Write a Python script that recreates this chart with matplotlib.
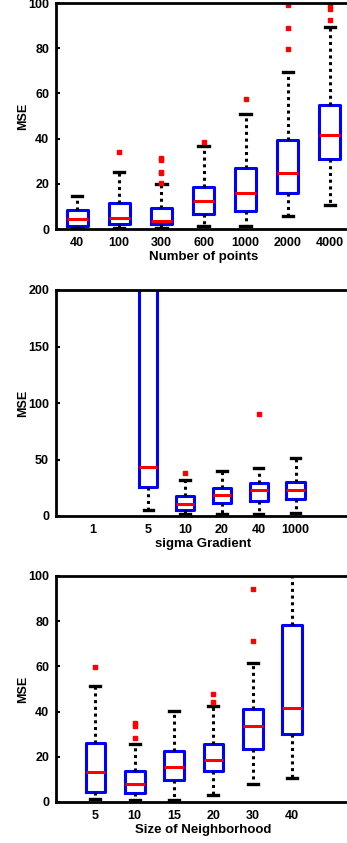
import matplotlib
matplotlib.use("Agg")
import matplotlib.pyplot as plt

plt.rcParams['font.family'] = ['Liberation Sans', 'DejaVu Sans']
plt.rcParams['font.weight'] = 'bold'
plt.rcParams['font.size'] = 9

# panel 1: number of points
pts_labels = ['40', '100', '300', '600', '1000', '2000', '4000']
pts_whislo = [0.3, 0.3, 0.3, 1.5, 1.3, 5.6, 10.7]
pts_q1 = [1.2, 2.1, 2.1, 6.8, 8.0, 16.0, 31.1]
pts_med = [4.3, 4.9, 3.4, 12.3, 16.1, 24.7, 41.4]
pts_q3 = [8.6, 11.7, 9.3, 18.6, 26.8, 39.3, 55.0]
pts_whishi = [14.8, 25.4, 19.8, 36.7, 51.0, 69.5, 89.3]
pts_fliers = [[], [33.9], [20.3, 24.6, 25.3, 30.6, 31.4], [38.3], [57.4],
              [79.6, 88.9, 99.3], [92.6, 97.3, 99.3]]

# panel 2: sigma gradient (sigma=1 is off the chart)
sig_labels = ['1', '5', '10', '20', '40', '1000']
sig_whislo = [5.3, 1.8, 1.8, 2.0, 2.7]
sig_q1 = [26.0, 5.6, 11.2, 13.3, 15.1]
sig_med = [43.2, 10.9, 18.6, 22.8, 22.8]
sig_q3 = [260.0, 17.8, 25.1, 29.6, 30.2]
sig_whishi = [300.0, 32.0, 40.0, 42.9, 51.2]
sig_fliers = [[], [38.2], [], [90.2], []]

# panel 3: size of neighborhood
nb_labels = ['5', '10', '15', '20', '30', '40']
nb_whislo = [1.2, 1.0, 1.0, 3.3, 8.1, 10.8]
nb_q1 = [4.3, 4.1, 9.6, 13.8, 23.3, 29.9]
nb_med = [13.2, 8.0, 15.6, 18.8, 33.5, 41.8]
nb_q3 = [26.2, 13.8, 22.7, 25.6, 41.0, 78.1]
nb_whishi = [51.4, 25.8, 40.3, 42.5, 61.5, 115.0]
nb_fliers = [[59.9], [28.4, 33.8, 34.8], [], [44.3, 48.0], [71.1, 94.2], []]


def make_stats(lo, q1, med, q3, hi, fl):
    return [dict(whislo=a, q1=b, med=c, q3=d, whishi=e, fliers=f)
            for a, b, c, d, e, f in zip(lo, q1, med, q3, hi, fl)]


fig = plt.figure(figsize=(3.47, 8.43), dpi=100)
W, H = 347.0, 843.0
left = 56 / W
width = 295 / W


def draw(rect, stats, positions, xlim, ylim, yticks, ticks, labels, xlabel):
    ax = fig.add_axes(rect)
    ax.bxp(stats, positions=positions, widths=0.5, capwidths=0.25,
           boxprops=dict(color='blue', linewidth=2.2),
           medianprops=dict(color='red', linewidth=2.2),
           whiskerprops=dict(color='black', linewidth=2.2, linestyle=(0, (1, 1.2))),
           capprops=dict(color='black', linewidth=2.4),
           flierprops=dict(marker='s', markersize=2.4, markerfacecolor='red',
                           markeredgecolor='red'))
    ax.set_xlim(*xlim)
    ax.set_ylim(*ylim)
    ax.set_yticks(yticks)
    ax.set_xticks(ticks)
    ax.set_xticklabels(labels, fontweight='bold')
    ax.tick_params(axis='x', length=0, pad=6)
    ax.tick_params(axis='y', direction='in', length=3, width=1.5, pad=5)
    for s in ax.spines.values():
        s.set_linewidth(2)
    ax.set_xlabel(xlabel, fontweight='bold', fontsize=9.5, labelpad=1)
    ax.set_ylabel('MSE', fontweight='bold', labelpad=-1)
    return ax


st1 = make_stats(pts_whislo, pts_q1, pts_med, pts_q3, pts_whishi, pts_fliers)
draw([left, (H - 229) / H, width, 226 / H], st1, list(range(1, 8)),
     (0.5, 7.5), (0, 100), [0, 20, 40, 60, 80, 100],
     list(range(1, 8)), pts_labels, 'Number of points')

st2 = make_stats(sig_whislo, sig_q1, sig_med, sig_q3, sig_whishi, sig_fliers)
draw([left, (H - 516) / H, width, 226 / H], st2, [3, 4, 5, 6, 7],
     (0.5, 8.5), (0, 200), [0, 50, 100, 150, 200],
     [1.5, 3, 4, 5, 6, 7], sig_labels, 'sigma Gradient')

st3 = make_stats(nb_whislo, nb_q1, nb_med, nb_q3, nb_whishi, nb_fliers)
draw([left, (H - 802) / H, width, 226 / H], st3, list(range(1, 7)),
     (0, 7.5), (0, 100), [0, 20, 40, 60, 80, 100],
     list(range(1, 7)), nb_labels, 'Size of Neighborhood')

fig.savefig('out.png', dpi=100)
